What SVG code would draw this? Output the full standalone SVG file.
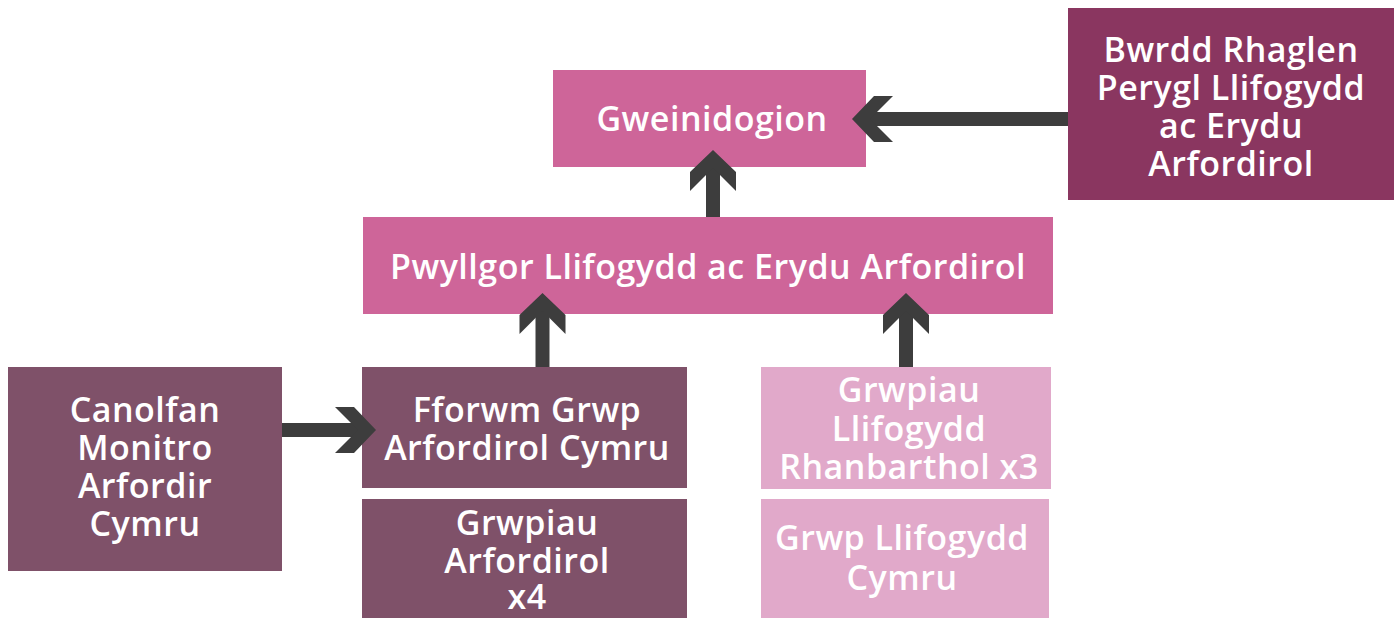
<svg xmlns="http://www.w3.org/2000/svg" width="1400" height="618" viewBox="0 0 1400 618">
<style>
.t{font-family:"Open Sans","Noto Sans","Liberation Sans",sans-serif;font-weight:600;font-size:34px;letter-spacing:0.5px;fill:#ffffff;text-anchor:middle}
.pink{fill:#CE6599}
.plum{fill:#8A3660}
.mauve{fill:#7F5169}
.light{fill:#E1A9CA}
.c{stroke:#3d3d3d;stroke-width:14;fill:none;marker-end:url(#ah)}
</style>
<defs>
<marker id="ah" markerUnits="userSpaceOnUse" markerWidth="44" markerHeight="48" viewBox="-30 -24 44 48" refX="0" refY="0" orient="auto" overflow="visible">
<path d="M12,0 L-10,-23 L-29,-23 L-6,0 L-29,23 L-10,23 Z" fill="#3d3d3d"/>
</marker>
</defs>
<rect width="1400" height="618" fill="#ffffff"/>
<g id="n-gweinidogion">
<rect class="pink" x="553" y="70" width="313" height="97"/>
<text class="t" x="712" y="131">Gweinidogion</text>
</g>
<g id="n-bwrdd">
<rect class="plum" x="1068" y="8" width="326" height="192"/>
<text class="t" x="1231" y="62">Bwrdd Rhaglen</text>
<text class="t" x="1231" y="100">Perygl Llifogydd</text>
<text class="t" x="1231" y="138">ac Erydu</text>
<text class="t" x="1231" y="176">Arfordirol</text>
</g>
<g id="n-pwyllgor">
<rect class="pink" x="363" y="217" width="690" height="97"/>
<text class="t" x="708" y="279">Pwyllgor Llifogydd ac Erydu Arfordirol</text>
</g>
<g id="n-canolfan">
<rect class="mauve" x="8" y="367" width="274" height="204"/>
<text class="t" x="145" y="422">Canolfan</text>
<text class="t" x="145" y="460">Monitro</text>
<text class="t" x="145" y="498">Arfordir</text>
<text class="t" x="145" y="536">Cymru</text>
</g>
<g id="n-fforwm">
<rect class="mauve" x="362" y="367" width="325" height="121"/>
<text class="t" x="527" y="422">Fforwm Grwp</text>
<text class="t" x="527" y="460">Arfordirol Cymru</text>
</g>
<g id="n-grwpiau-arfordirol">
<rect class="mauve" x="362" y="499" width="325" height="119"/>
<text class="t" x="527" y="535">Grwpiau</text>
<text class="t" x="527" y="573">Arfordirol</text>
<text class="t" x="527" y="609">x4</text>
</g>
<g id="n-grwpiau-llifogydd">
<rect class="light" x="761" y="367" width="290" height="122"/>
<text class="t" x="909" y="402">Grwpiau</text>
<text class="t" x="909" y="441">Llifogydd</text>
<text class="t" x="909" y="479">Rhanbarthol x3</text>
</g>
<g id="n-grwp-llifogydd-cymru">
<rect class="light" x="761" y="499" width="288" height="119"/>
<text class="t" x="902" y="550">Grwp Llifogydd</text>
<text class="t" x="902" y="590">Cymru</text>
</g>
<g id="connectors">
<line class="c" x1="1068" y1="119" x2="864" y2="119"/>
<line class="c" x1="713" y1="217" x2="713" y2="162"/>
<line class="c" x1="542.5" y1="367" x2="542.5" y2="305"/>
<line class="c" x1="906" y1="367" x2="906" y2="305"/>
<line class="c" x1="282" y1="430" x2="364" y2="430"/>
</g>
</svg>
